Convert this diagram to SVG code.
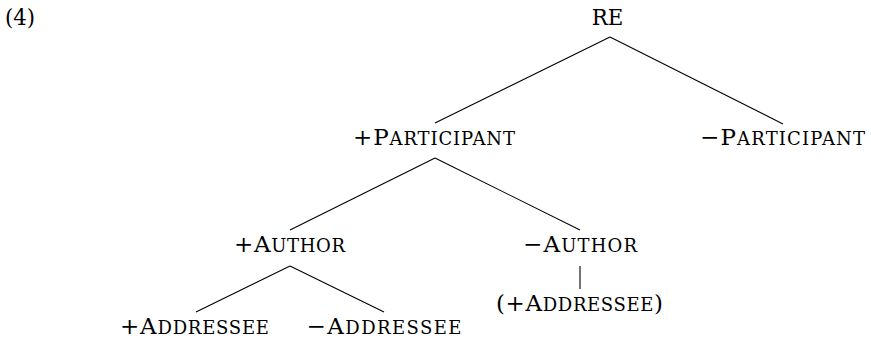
<svg xmlns="http://www.w3.org/2000/svg" width="871" height="340" viewBox="0 0 871 340">
<style>
text{font-family:'DejaVu Serif',serif;font-size:23px;fill:#000;text-anchor:middle}
tspan.sc{font-size:18px}
.e{stroke:#000;stroke-width:1.1;fill:none}
</style>
<rect width="871" height="340" fill="#fff"/>
<text x="5" y="25" style="text-anchor:start" textLength="30" lengthAdjust="spacingAndGlyphs">(4)</text>
<g id="connectors">
<line class="e" x1="610" y1="37" x2="435" y2="123"/>
<line class="e" x1="610" y1="37" x2="783" y2="124"/>
<line class="e" x1="435" y1="158" x2="290" y2="230"/>
<line class="e" x1="435" y1="158" x2="580" y2="230"/>
<line class="e" x1="290" y1="266" x2="196" y2="312"/>
<line class="e" x1="290" y1="266" x2="384" y2="312"/>
<line class="e" x1="580" y1="266" x2="580" y2="289"/>
</g>
<g id="re"><text x="607.5" y="25" textLength="31.6" lengthAdjust="spacingAndGlyphs">RE</text></g>
<g id="plus-participant"><text x="434" y="145" textLength="162" lengthAdjust="spacing">+P<tspan class="sc">ARTICIPANT</tspan></text></g>
<g id="minus-participant"><text x="782.5" y="145" textLength="165" lengthAdjust="spacing">−P<tspan class="sc">ARTICIPANT</tspan></text></g>
<g id="plus-author"><text x="289.5" y="252" textLength="111" lengthAdjust="spacing">+A<tspan class="sc">UTHOR</tspan></text></g>
<g id="minus-author"><text x="580" y="252" textLength="114" lengthAdjust="spacing">−A<tspan class="sc">UTHOR</tspan></text></g>
<g id="paren-plus-addressee"><text x="579.5" y="311" textLength="167" lengthAdjust="spacing">(+A<tspan class="sc">DDRESSEE</tspan>)</text></g>
<g id="plus-addressee"><text x="194.5" y="334" textLength="149" lengthAdjust="spacing">+A<tspan class="sc">DDRESSEE</tspan></text></g>
<g id="minus-addressee"><text x="384" y="334" textLength="155" lengthAdjust="spacing">−A<tspan class="sc">DDRESSEE</tspan></text></g>
</svg>
